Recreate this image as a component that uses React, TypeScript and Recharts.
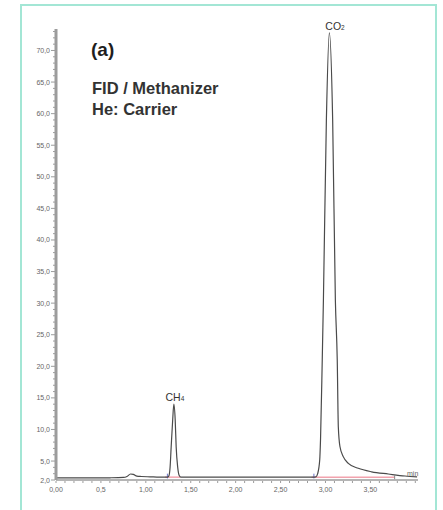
import React from 'react';
import { LineChart, Line, XAxis, YAxis, ReferenceLine, ReferenceDot } from 'recharts';

// retention time (min) and detector signal
const TIME_MIN = [0, 0.2, 0.4, 0.6, 0.75, 0.79, 0.83, 0.86, 0.9, 0.95, 1.05, 1.15, 1.24, 1.255, 1.27, 1.282, 1.299, 1.312, 1.327, 1.338, 1.355, 1.372, 1.39, 1.5, 1.8, 2.1, 2.4, 2.7, 2.86, 2.894, 2.913, 2.936, 2.945, 2.964, 2.977, 3.01, 3.043, 3.08, 3.11, 3.131, 3.143, 3.161, 3.198, 3.254, 3.365, 3.514, 3.699, 3.885, 4.02];
const SIGNAL = [2.35, 2.35, 2.33, 2.35, 2.4, 2.55, 2.95, 2.9, 2.6, 2.55, 2.5, 2.45, 2.45, 2.6, 4.0, 7.2, 11.5, 14.0, 11.5, 7.2, 4.0, 2.7, 2.45, 2.45, 2.45, 2.45, 2.45, 2.45, 2.45, 2.5, 3.0, 5.2, 8.5, 21.0, 30.5, 59.0, 72.8, 59.0, 30.5, 21.0, 10.4, 7.3, 5.7, 4.64, 3.85, 3.3, 2.95, 2.63, 2.5];

const X_LABEL_VALUES = [0, 0.5, 1, 1.5, 2, 2.5, 3, 3.5];
const X_LABELS = ['0,00', '0,5', '1,00', '1,50', '2,00', '2,50', '3,00', '3,50'];
const Y_LABEL_VALUES = [2, 5, 10, 15, 20, 25, 30, 35, 40, 45, 50, 55, 60, 65, 70];

// peaks: name, apex time, apex signal
const PEAK_NAMES = ['CH', 'CO'];
const PEAK_SUBS = ['4', '2'];
const PEAK_TIMES = [1.312, 3.043];
const PEAK_VALUES = [14.0, 72.8];

// integration baselines [start, end]
const BASELINE_STARTS = [1.215, 2.846];
const BASELINE_ENDS = [1.385, 3.77];
const BASELINE_LEVEL = 2.45;

const data = TIME_MIN.map((t, i) => ({ t, v: SIGNAL[i] }));

const xTicks: number[] = [];
for (let i = 0; i <= 40; i++) xTicks.push(i / 10);
const yTicks: number[] = [];
for (let i = 2; i <= 73; i++) yTicks.push(i);

const AXIS_GREY = '#9c9c9c';
const LABEL_GREY = '#666666';

const YTick = (props: any) => {
  const { x, y, payload } = props;
  const major = Y_LABEL_VALUES.includes(payload.value);
  return (
    <g>
      <line x1={x - (major ? 5 : 3)} x2={x - 1} y1={y} y2={y} stroke={AXIS_GREY} strokeWidth={1} />
      {major && (
        <text x={x - 6} y={y} dy={2.5} textAnchor="end" fontSize={7} fill={LABEL_GREY} fontFamily="Liberation Sans, Arial, sans-serif">
          {payload.value.toFixed(1).replace('.', ',')}
        </text>
      )}
    </g>
  );
};

const XTick = (props: any) => {
  const { x, y, payload } = props;
  const idx = X_LABEL_VALUES.findIndex(v => Math.abs(v - payload.value) < 1e-6);
  return (
    <g>
      <line x1={x} x2={x} y1={y + 1} y2={y + 3} stroke={AXIS_GREY} strokeWidth={1} />
      {idx >= 0 && (
        <text x={x} y={y + 12} textAnchor="middle" fontSize={7} fill={LABEL_GREY} fontFamily="Liberation Sans, Arial, sans-serif">
          {X_LABELS[idx]}
        </text>
      )}
    </g>
  );
};

const PeakLabel = (name: string, sub: string, anchor: 'start' | 'middle', dx: number) => (props: any) => {
  const { viewBox } = props;
  const cx = viewBox.x + (viewBox.width || 0) / 2;
  const cy = viewBox.y + (viewBox.height || 0) / 2;
  return (
    <text x={cx + dx} y={cy - 3} textAnchor={anchor} fontSize={10.5} fill="#333" fontFamily="Liberation Sans, Arial, sans-serif">
      {name}
      <tspan fontSize={6.5}>{sub}</tspan>
    </text>
  );
};

const textStyle: React.CSSProperties = {
  position: 'absolute',
  fontFamily: 'Liberation Sans, Arial, sans-serif',
  color: '#1e1e1e',
  whiteSpace: 'nowrap',
  lineHeight: 1,
};

export default function App() {
  return (
    <div style={{ position: 'fixed', left: 0, top: 0, width: 443, height: 510, background: '#fff', overflow: 'hidden' }}>
      <div style={{ position: 'absolute', left: 20, top: 4, width: 413, height: 530, border: '2px solid #a3e6d5' }} />
      <div style={{ position: 'absolute', left: 0, top: 0 }}>
        <LineChart width={443} height={510} data={data} margin={{ top: 29, right: 25, bottom: 0, left: 0 }}>
          <XAxis
            dataKey="t"
            type="number"
            domain={[0, 4.03]}
            ticks={xTicks}
            interval={0}
            tick={<XTick />}
            tickLine={false}
            tickSize={0}
            tickMargin={0}
            height={30}
            axisLine={{ stroke: AXIS_GREY, strokeWidth: 1.5 }}
          />
          <YAxis
            type="number"
            domain={[2, 73.4]}
            ticks={yTicks}
            interval={0}
            tick={<YTick />}
            tickLine={false}
            tickSize={0}
            tickMargin={0}
            width={56}
            axisLine={{ stroke: AXIS_GREY, strokeWidth: 3 }}
          />
          {BASELINE_STARTS.map((s, i) => (
            <ReferenceLine
              key={`bl-${i}`}
              segment={[{ x: s, y: BASELINE_LEVEL }, { x: BASELINE_ENDS[i], y: BASELINE_LEVEL }]}
              stroke="#f2a3ae"
              strokeWidth={1.5}
            />
          ))}
          {BASELINE_STARTS.map((s, i) => (
            <ReferenceLine
              key={`mk-${i}`}
              segment={[{ x: s + 0.025, y: 2.25 }, { x: s + 0.025, y: 3.0 }]}
              stroke="#6c74c9"
              strokeWidth={1}
            />
          ))}
          <ReferenceLine
            segment={[{ x: BASELINE_ENDS[1], y: 2.1 }, { x: BASELINE_ENDS[1], y: 2.7 }]}
            stroke="#888"
            strokeWidth={1}
          />
          <Line
            type="monotone"
            dataKey="v"
            stroke="#4a4a4a"
            strokeWidth={1.2}
            dot={false}
            isAnimationActive={false}
          />
          {PEAK_TIMES.map((t, i) => (
            <ReferenceDot
              key={`pk-${i}`}
              x={t}
              y={PEAK_VALUES[i]}
              r={0}
              stroke="none"
              fill="none"
              label={PeakLabel(PEAK_NAMES[i], PEAK_SUBS[i], i === 1 ? 'start' : 'middle', i === 1 ? -4 : 1)}
            />
          ))}
        </LineChart>
      </div>
      <div style={{ ...textStyle, left: 91, top: 40, fontSize: 19, fontWeight: 'bold' }}>(a)</div>
      <div style={{ ...textStyle, left: 92, top: 80, fontSize: 16.5, fontWeight: 'bold', color: '#333' }}>FID / Methanizer</div>
      <div style={{ ...textStyle, left: 92, top: 101, fontSize: 16.5, fontWeight: 'bold', color: '#333' }}>He: Carrier</div>
      <div style={{ ...textStyle, left: 407, top: 470, fontSize: 7, color: LABEL_GREY }}>min</div>
    </div>
  );
}
